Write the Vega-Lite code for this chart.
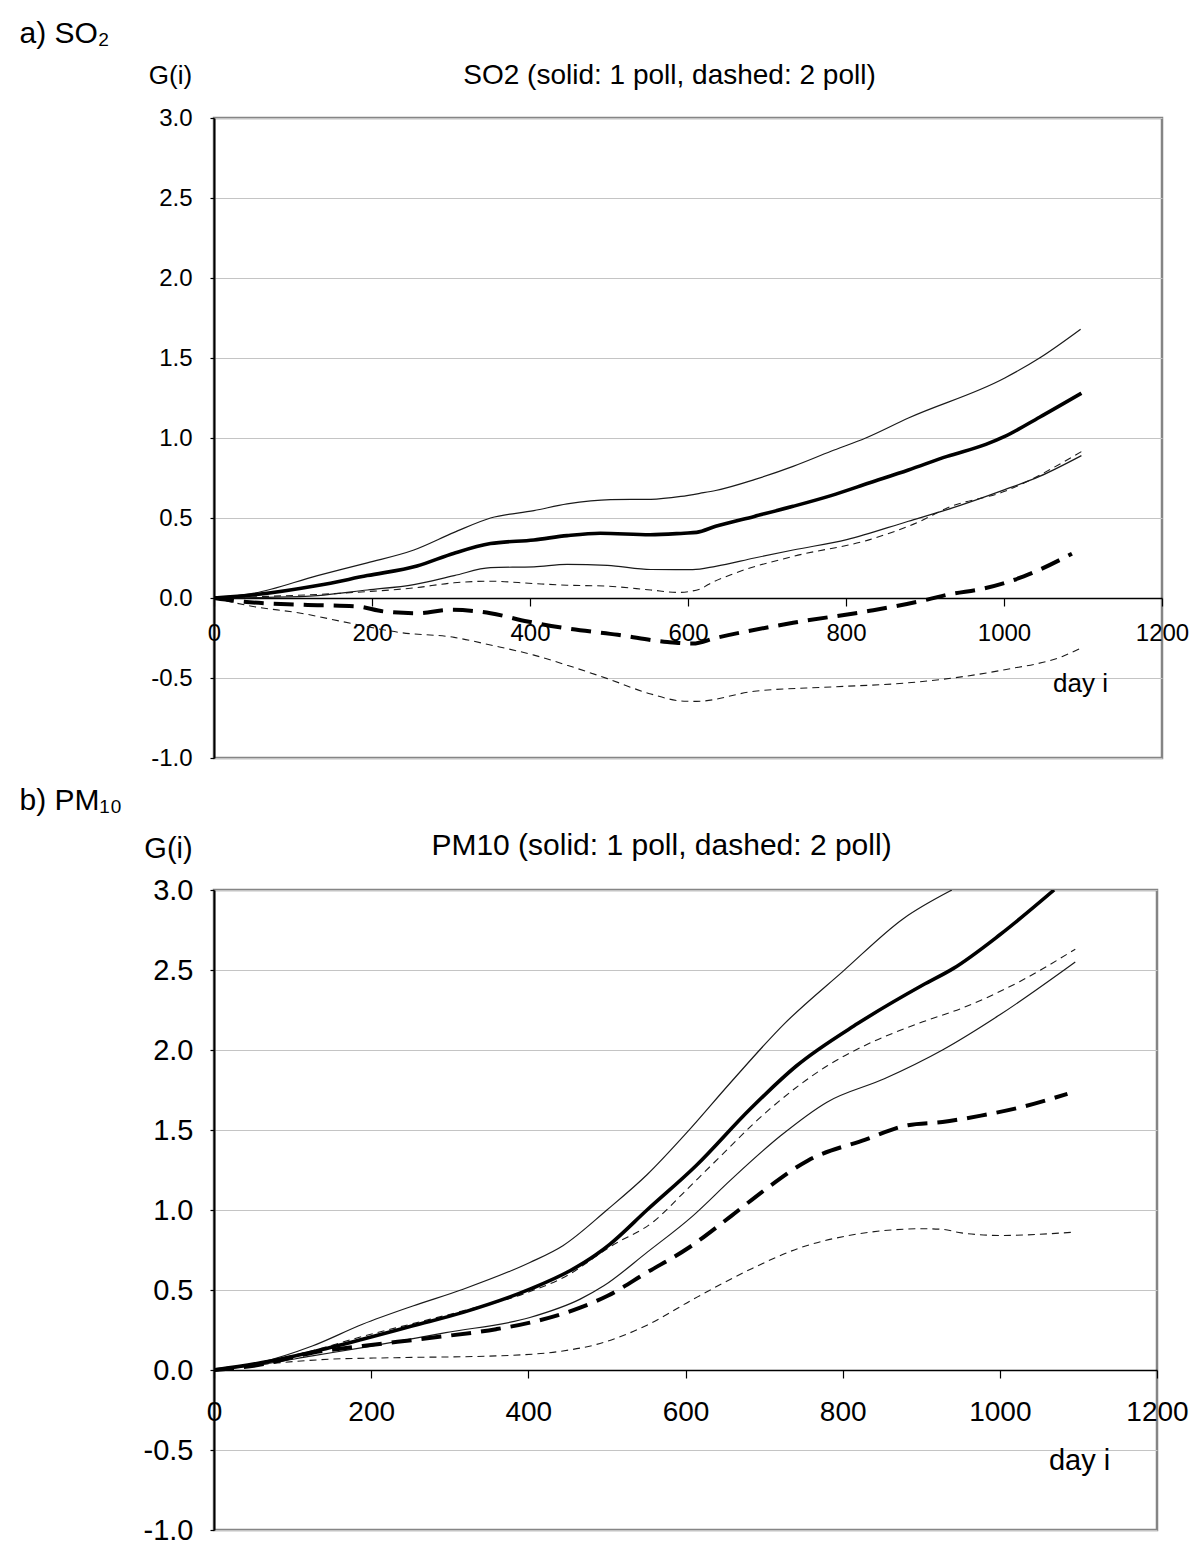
{
"$schema": "https://vega.github.io/schema/vega-lite/v6.json",
"background": "white",
"padding": {"left": 17, "top": 16, "right": 0, "bottom": 0},
"spacing": 11,
"config": {
  "font": "Liberation Sans",
  "view": {"stroke": "#858585", "strokeWidth": 2.5},
  "axis": {"labelColor": "black", "titleColor": "black", "tickColor": "black", "domainColor": "black", "titleFontWeight": "normal", "labelFont": "Liberation Sans", "titleFont": "Liberation Sans", "labelOverlap": false, "labelFlush": false, "labelBound": false}
},
"datasets": {
"so2": [
{"day":0,"G":0,"model":"1 poll","band":"upper"},{"day":51,"G":0.03,"model":"1 poll","band":"upper"},{"day":131,"G":0.14,"model":"1 poll","band":"upper"},{"day":194,"G":0.22,"model":"1 poll","band":"upper"},{"day":253,"G":0.3,"model":"1 poll","band":"upper"},{"day":304,"G":0.41,"model":"1 poll","band":"upper"},{"day":350,"G":0.5,"model":"1 poll","band":"upper"},{"day":405,"G":0.546,"model":"1 poll","band":"upper"},{"day":447,"G":0.588,"model":"1 poll","band":"upper"},{"day":502,"G":0.615,"model":"1 poll","band":"upper"},{"day":553,"G":0.617,"model":"1 poll","band":"upper"},{"day":591,"G":0.635,"model":"1 poll","band":"upper"},{"day":616,"G":0.655,"model":"1 poll","band":"upper"},{"day":635,"G":0.672,"model":"1 poll","band":"upper"},{"day":684,"G":0.74,"model":"1 poll","band":"upper"},{"day":733,"G":0.823,"model":"1 poll","band":"upper"},{"day":781,"G":0.917,"model":"1 poll","band":"upper"},{"day":825,"G":1.0,"model":"1 poll","band":"upper"},{"day":879,"G":1.125,"model":"1 poll","band":"upper"},{"day":1001,"G":1.375,"model":"1 poll","band":"upper"},{"day":1045,"G":1.5,"model":"1 poll","band":"upper"},{"day":1097,"G":1.68,"model":"1 poll","band":"upper"},
{"day":0,"G":0,"model":"1 poll","band":"estimate"},{"day":51,"G":0.02,"model":"1 poll","band":"estimate"},{"day":131,"G":0.078,"model":"1 poll","band":"estimate"},{"day":194,"G":0.14,"model":"1 poll","band":"estimate"},{"day":257,"G":0.2,"model":"1 poll","band":"estimate"},{"day":304,"G":0.28,"model":"1 poll","band":"estimate"},{"day":350,"G":0.34,"model":"1 poll","band":"estimate"},{"day":405,"G":0.363,"model":"1 poll","band":"estimate"},{"day":447,"G":0.39,"model":"1 poll","band":"estimate"},{"day":489,"G":0.405,"model":"1 poll","band":"estimate"},{"day":552,"G":0.395,"model":"1 poll","band":"estimate"},{"day":595,"G":0.405,"model":"1 poll","band":"estimate"},{"day":611,"G":0.41,"model":"1 poll","band":"estimate"},{"day":635,"G":0.448,"model":"1 poll","band":"estimate"},{"day":684,"G":0.51,"model":"1 poll","band":"estimate"},{"day":733,"G":0.573,"model":"1 poll","band":"estimate"},{"day":781,"G":0.64,"model":"1 poll","band":"estimate"},{"day":830,"G":0.72,"model":"1 poll","band":"estimate"},{"day":879,"G":0.8,"model":"1 poll","band":"estimate"},{"day":928,"G":0.885,"model":"1 poll","band":"estimate"},{"day":977,"G":0.96,"model":"1 poll","band":"estimate"},{"day":1001,"G":1.01,"model":"1 poll","band":"estimate"},{"day":1045,"G":1.13,"model":"1 poll","band":"estimate"},{"day":1098,"G":1.28,"model":"1 poll","band":"estimate"},
{"day":0,"G":0,"model":"1 poll","band":"lower"},{"day":68,"G":0.004,"model":"1 poll","band":"lower"},{"day":131,"G":0.015,"model":"1 poll","band":"lower"},{"day":194,"G":0.05,"model":"1 poll","band":"lower"},{"day":253,"G":0.084,"model":"1 poll","band":"lower"},{"day":304,"G":0.14,"model":"1 poll","band":"lower"},{"day":350,"G":0.19,"model":"1 poll","band":"lower"},{"day":405,"G":0.195,"model":"1 poll","band":"lower"},{"day":447,"G":0.21,"model":"1 poll","band":"lower"},{"day":498,"G":0.204,"model":"1 poll","band":"lower"},{"day":553,"G":0.178,"model":"1 poll","band":"lower"},{"day":606,"G":0.177,"model":"1 poll","band":"lower"},{"day":635,"G":0.198,"model":"1 poll","band":"lower"},{"day":684,"G":0.25,"model":"1 poll","band":"lower"},{"day":733,"G":0.3,"model":"1 poll","band":"lower"},{"day":801,"G":0.365,"model":"1 poll","band":"lower"},{"day":879,"G":0.48,"model":"1 poll","band":"lower"},{"day":928,"G":0.552,"model":"1 poll","band":"lower"},{"day":1001,"G":0.677,"model":"1 poll","band":"lower"},{"day":1045,"G":0.76,"model":"1 poll","band":"lower"},{"day":1098,"G":0.89,"model":"1 poll","band":"lower"},
{"day":0,"G":0,"model":"2 poll","band":"upper"},{"day":68,"G":0.01,"model":"2 poll","band":"upper"},{"day":194,"G":0.04,"model":"2 poll","band":"upper"},{"day":253,"G":0.063,"model":"2 poll","band":"upper"},{"day":304,"G":0.095,"model":"2 poll","band":"upper"},{"day":350,"G":0.105,"model":"2 poll","band":"upper"},{"day":405,"G":0.09,"model":"2 poll","band":"upper"},{"day":447,"G":0.08,"model":"2 poll","band":"upper"},{"day":498,"G":0.074,"model":"2 poll","band":"upper"},{"day":553,"G":0.05,"model":"2 poll","band":"upper"},{"day":587,"G":0.035,"model":"2 poll","band":"upper"},{"day":616,"G":0.057,"model":"2 poll","band":"upper"},{"day":625,"G":0.083,"model":"2 poll","band":"upper"},{"day":660,"G":0.156,"model":"2 poll","band":"upper"},{"day":733,"G":0.26,"model":"2 poll","band":"upper"},{"day":830,"G":0.365,"model":"2 poll","band":"upper"},{"day":894,"G":0.48,"model":"2 poll","band":"upper"},{"day":928,"G":0.5625,"model":"2 poll","band":"upper"},{"day":1001,"G":0.667,"model":"2 poll","band":"upper"},{"day":1098,"G":0.915,"model":"2 poll","band":"upper"},
{"day":0,"G":0,"model":"2 poll","band":"estimate"},{"day":25,"G":-0.017,"model":"2 poll","band":"estimate"},{"day":110,"G":-0.042,"model":"2 poll","band":"estimate"},{"day":181,"G":-0.052,"model":"2 poll","band":"estimate"},{"day":215,"G":-0.084,"model":"2 poll","band":"estimate"},{"day":257,"G":-0.095,"model":"2 poll","band":"estimate"},{"day":300,"G":-0.074,"model":"2 poll","band":"estimate"},{"day":350,"G":-0.095,"model":"2 poll","band":"estimate"},{"day":397,"G":-0.147,"model":"2 poll","band":"estimate"},{"day":447,"G":-0.19,"model":"2 poll","band":"estimate"},{"day":511,"G":-0.23,"model":"2 poll","band":"estimate"},{"day":574,"G":-0.275,"model":"2 poll","band":"estimate"},{"day":606,"G":-0.285,"model":"2 poll","band":"estimate"},{"day":635,"G":-0.25,"model":"2 poll","band":"estimate"},{"day":733,"G":-0.155,"model":"2 poll","band":"estimate"},{"day":830,"G":-0.08,"model":"2 poll","band":"estimate"},{"day":903,"G":-0.01,"model":"2 poll","band":"estimate"},{"day":928,"G":0.02,"model":"2 poll","band":"estimate"},{"day":977,"G":0.0625,"model":"2 poll","band":"estimate"},{"day":1025,"G":0.135,"model":"2 poll","band":"estimate"},{"day":1086,"G":0.277,"model":"2 poll","band":"estimate"},
{"day":0,"G":0,"model":"2 poll","band":"lower"},{"day":46,"G":-0.05,"model":"2 poll","band":"lower"},{"day":110,"G":-0.095,"model":"2 poll","band":"lower"},{"day":173,"G":-0.158,"model":"2 poll","band":"lower"},{"day":236,"G":-0.216,"model":"2 poll","band":"lower"},{"day":304,"G":-0.246,"model":"2 poll","band":"lower"},{"day":350,"G":-0.294,"model":"2 poll","band":"lower"},{"day":405,"G":-0.357,"model":"2 poll","band":"lower"},{"day":447,"G":-0.42,"model":"2 poll","band":"lower"},{"day":498,"G":-0.504,"model":"2 poll","band":"lower"},{"day":553,"G":-0.6,"model":"2 poll","band":"lower"},{"day":595,"G":-0.645,"model":"2 poll","band":"lower"},{"day":611,"G":-0.646,"model":"2 poll","band":"lower"},{"day":684,"G":-0.583,"model":"2 poll","band":"lower"},{"day":781,"G":-0.556,"model":"2 poll","band":"lower"},{"day":879,"G":-0.53,"model":"2 poll","band":"lower"},{"day":1001,"G":-0.448,"model":"2 poll","band":"lower"},{"day":1074,"G":-0.365,"model":"2 poll","band":"lower"},{"day":1098,"G":-0.3125,"model":"2 poll","band":"lower"}
],
"pm10": [
{"day":0,"G":0,"model":"1 poll","band":"upper"},{"day":61,"G":0.05,"model":"1 poll","band":"upper"},{"day":125,"G":0.15,"model":"1 poll","band":"upper"},{"day":189,"G":0.286,"model":"1 poll","band":"upper"},{"day":253,"G":0.4,"model":"1 poll","band":"upper"},{"day":317,"G":0.505,"model":"1 poll","band":"upper"},{"day":402,"G":0.672,"model":"1 poll","band":"upper"},{"day":444,"G":0.777,"model":"1 poll","band":"upper"},{"day":500,"G":1.0,"model":"1 poll","band":"upper"},{"day":551,"G":1.22,"model":"1 poll","band":"upper"},{"day":601,"G":1.48,"model":"1 poll","band":"upper"},{"day":658,"G":1.8,"model":"1 poll","band":"upper"},{"day":726,"G":2.165,"model":"1 poll","band":"upper"},{"day":800,"G":2.49,"model":"1 poll","band":"upper"},{"day":878,"G":2.824,"model":"1 poll","band":"upper"},{"day":939,"G":3.0,"model":"1 poll","band":"upper"},
{"day":0,"G":0,"model":"1 poll","band":"estimate"},{"day":61,"G":0.046,"model":"1 poll","band":"estimate"},{"day":125,"G":0.113,"model":"1 poll","band":"estimate"},{"day":189,"G":0.192,"model":"1 poll","band":"estimate"},{"day":253,"G":0.276,"model":"1 poll","band":"estimate"},{"day":317,"G":0.36,"model":"1 poll","band":"estimate"},{"day":402,"G":0.505,"model":"1 poll","band":"estimate"},{"day":453,"G":0.62,"model":"1 poll","band":"estimate"},{"day":486,"G":0.72,"model":"1 poll","band":"estimate"},{"day":504,"G":0.787,"model":"1 poll","band":"estimate"},{"day":551,"G":1.0,"model":"1 poll","band":"estimate"},{"day":614,"G":1.28,"model":"1 poll","band":"estimate"},{"day":682,"G":1.63,"model":"1 poll","band":"estimate"},{"day":741,"G":1.9,"model":"1 poll","band":"estimate"},{"day":819,"G":2.165,"model":"1 poll","band":"estimate"},{"day":902,"G":2.406,"model":"1 poll","band":"estimate"},{"day":941,"G":2.51,"model":"1 poll","band":"estimate"},{"day":1000,"G":2.72,"model":"1 poll","band":"estimate"},{"day":1069,"G":3.0,"model":"1 poll","band":"estimate"},
{"day":0,"G":0,"model":"1 poll","band":"lower"},{"day":61,"G":0.035,"model":"1 poll","band":"lower"},{"day":125,"G":0.088,"model":"1 poll","band":"lower"},{"day":189,"G":0.14,"model":"1 poll","band":"lower"},{"day":295,"G":0.234,"model":"1 poll","band":"lower"},{"day":402,"G":0.328,"model":"1 poll","band":"lower"},{"day":466,"G":0.443,"model":"1 poll","band":"lower"},{"day":496,"G":0.526,"model":"1 poll","band":"lower"},{"day":551,"G":0.735,"model":"1 poll","band":"lower"},{"day":609,"G":0.962,"model":"1 poll","band":"lower"},{"day":658,"G":1.19,"model":"1 poll","band":"lower"},{"day":721,"G":1.464,"model":"1 poll","band":"lower"},{"day":780,"G":1.674,"model":"1 poll","band":"lower"},{"day":853,"G":1.82,"model":"1 poll","band":"lower"},{"day":927,"G":2.0,"model":"1 poll","band":"lower"},{"day":1000,"G":2.22,"model":"1 poll","band":"lower"},{"day":1096,"G":2.55,"model":"1 poll","band":"lower"},
{"day":0,"G":0,"model":"2 poll","band":"upper"},{"day":61,"G":0.05,"model":"2 poll","band":"upper"},{"day":125,"G":0.12,"model":"2 poll","band":"upper"},{"day":189,"G":0.21,"model":"2 poll","band":"upper"},{"day":253,"G":0.29,"model":"2 poll","band":"upper"},{"day":317,"G":0.37,"model":"2 poll","band":"upper"},{"day":402,"G":0.49,"model":"2 poll","band":"upper"},{"day":453,"G":0.6,"model":"2 poll","band":"upper"},{"day":486,"G":0.71,"model":"2 poll","band":"upper"},{"day":504,"G":0.77,"model":"2 poll","band":"upper"},{"day":560,"G":0.93,"model":"2 poll","band":"upper"},{"day":600,"G":1.12,"model":"2 poll","band":"upper"},{"day":633,"G":1.28,"model":"2 poll","band":"upper"},{"day":707,"G":1.63,"model":"2 poll","band":"upper"},{"day":780,"G":1.9,"model":"2 poll","band":"upper"},{"day":829,"G":2.03,"model":"2 poll","band":"upper"},{"day":902,"G":2.176,"model":"2 poll","band":"upper"},{"day":951,"G":2.26,"model":"2 poll","band":"upper"},{"day":1025,"G":2.427,"model":"2 poll","band":"upper"},{"day":1096,"G":2.63,"model":"2 poll","band":"upper"},
{"day":0,"G":0,"model":"2 poll","band":"estimate"},{"day":61,"G":0.035,"model":"2 poll","band":"estimate"},{"day":125,"G":0.108,"model":"2 poll","band":"estimate"},{"day":189,"G":0.15,"model":"2 poll","band":"estimate"},{"day":274,"G":0.2,"model":"2 poll","band":"estimate"},{"day":359,"G":0.255,"model":"2 poll","band":"estimate"},{"day":402,"G":0.296,"model":"2 poll","band":"estimate"},{"day":466,"G":0.39,"model":"2 poll","band":"estimate"},{"day":501,"G":0.464,"model":"2 poll","band":"estimate"},{"day":550,"G":0.607,"model":"2 poll","band":"estimate"},{"day":604,"G":0.764,"model":"2 poll","band":"estimate"},{"day":658,"G":0.962,"model":"2 poll","band":"estimate"},{"day":702,"G":1.13,"model":"2 poll","band":"estimate"},{"day":756,"G":1.31,"model":"2 poll","band":"estimate"},{"day":829,"G":1.44,"model":"2 poll","band":"estimate"},{"day":883,"G":1.53,"model":"2 poll","band":"estimate"},{"day":927,"G":1.55,"model":"2 poll","band":"estimate"},{"day":976,"G":1.59,"model":"2 poll","band":"estimate"},{"day":1025,"G":1.64,"model":"2 poll","band":"estimate"},{"day":1086,"G":1.726,"model":"2 poll","band":"estimate"},
{"day":0,"G":0,"model":"2 poll","band":"lower"},{"day":61,"G":0.035,"model":"2 poll","band":"lower"},{"day":146,"G":0.067,"model":"2 poll","band":"lower"},{"day":231,"G":0.077,"model":"2 poll","band":"lower"},{"day":359,"G":0.088,"model":"2 poll","band":"lower"},{"day":444,"G":0.119,"model":"2 poll","band":"lower"},{"day":487,"G":0.16,"model":"2 poll","band":"lower"},{"day":551,"G":0.28,"model":"2 poll","band":"lower"},{"day":609,"G":0.44,"model":"2 poll","band":"lower"},{"day":682,"G":0.628,"model":"2 poll","band":"lower"},{"day":746,"G":0.764,"model":"2 poll","band":"lower"},{"day":804,"G":0.837,"model":"2 poll","band":"lower"},{"day":902,"G":0.883,"model":"2 poll","band":"lower"},{"day":927,"G":0.879,"model":"2 poll","band":"lower"},{"day":951,"G":0.857,"model":"2 poll","band":"lower"},{"day":1000,"G":0.841,"model":"2 poll","band":"lower"},{"day":1096,"G":0.862,"model":"2 poll","band":"lower"}
]
},
"vconcat": [
{
  "width": 948, "height": 640,
  "data": {"name": "so2"},
  "layer": [
    {
      "transform": [{"filter": "datum.model === '1 poll' && datum.band !== 'estimate'"}],
      "mark": {"type": "line", "interpolate": "monotone", "stroke": "#1a1a1a", "strokeWidth": 1.2, "clip": true},
      "encoding": {
        "x": {"field": "day", "type": "quantitative", "scale": {"domain": [0, 1200], "nice": false, "zero": false},
              "axis": {"orient": "bottom", "offset": -160, "values": [0,200,400,600,800,1000,1200], "format": "d", "grid": false, "labelFontSize": 24, "tickSize": 8, "tickWidth": 1.2, "labelPadding": 15, "domainWidth": 1.5,
                       "title": "day i", "titleFontSize": 26, "titleX": 866, "titleY": 85, "titleAlign": "center", "titleBaseline": "middle", "titleAngle": 0}},
        "y": {"field": "G", "type": "quantitative", "scale": {"domain": [-1, 3], "nice": false, "zero": false},
              "axis": {"orient": "left", "values": [-1,-0.5,0,0.5,1,1.5,2,2.5,3], "labelExpr": "datum.value < 0 ? '-' + format(-datum.value, '.1f') : format(datum.value, '.1f')", "grid": true, "gridColor": "#c4c4c4", "gridWidth": 1.2, "labelFontSize": 24, "tickSize": 4, "tickWidth": 1.2, "labelPadding": 18, "domainWidth": 2,
                       "title": "G(i)", "titleFontSize": 26, "titleX": -44, "titleY": -43, "titleAlign": "center", "titleBaseline": "middle", "titleAngle": 0}},
        "detail": {"field": "band"}
      }
    },
    {
      "transform": [{"filter": "datum.model === '2 poll' && datum.band !== 'estimate'"}],
      "mark": {"type": "line", "interpolate": "monotone", "stroke": "#1a1a1a", "strokeWidth": 1.1, "strokeDash": [7, 5], "clip": true},
      "encoding": {
        "x": {"field": "day", "type": "quantitative", "axis": null},
        "y": {"field": "G", "type": "quantitative", "axis": null},
        "detail": {"field": "band"}
      }
    },
    {
      "transform": [{"filter": "datum.model === '1 poll' && datum.band === 'estimate'"}],
      "mark": {"type": "line", "interpolate": "monotone", "stroke": "black", "strokeWidth": 3.6, "clip": true},
      "encoding": {
        "x": {"field": "day", "type": "quantitative",
              "axis": {"orient": "top", "labels": false, "ticks": false, "domain": false, "grid": false,
                       "title": "SO2 (solid: 1 poll, dashed: 2 poll)", "titleFontSize": 28, "titleX": 455, "titleY": -43, "titleAlign": "center", "titleBaseline": "middle", "titleAngle": 0}},
        "y": {"field": "G", "type": "quantitative",
              "axis": {"orient": "right", "labels": false, "ticks": false, "domain": false, "grid": false,
                       "title": "a) SO₂", "titleFontSize": 30, "titleX": -1143, "titleY": -85, "titleAlign": "left", "titleBaseline": "middle", "titleAngle": 0}}
      }
    },
    {
      "transform": [{"filter": "datum.model === '2 poll' && datum.band === 'estimate'"}],
      "mark": {"type": "line", "interpolate": "monotone", "stroke": "black", "strokeWidth": 4, "strokeDash": [20, 10], "clip": true},
      "encoding": {
        "x": {"field": "day", "type": "quantitative", "axis": null},
        "y": {"field": "G", "type": "quantitative", "axis": null}
      }
    }
  ]
},
{
  "width": 943, "height": 640,
  "data": {"name": "pm10"},
  "layer": [
    {
      "transform": [{"filter": "datum.model === '1 poll' && datum.band !== 'estimate'"}],
      "mark": {"type": "line", "interpolate": "monotone", "stroke": "#1a1a1a", "strokeWidth": 1.2, "clip": true},
      "encoding": {
        "x": {"field": "day", "type": "quantitative", "scale": {"domain": [0, 1200], "nice": false, "zero": false},
              "axis": {"orient": "bottom", "offset": -160, "values": [0,200,400,600,800,1000,1200], "format": "d", "grid": false, "labelFontSize": 28, "tickSize": 8, "tickWidth": 1.2, "labelPadding": 20, "domainWidth": 1.5,
                       "title": "day i", "titleFontSize": 29, "titleX": 865, "titleY": 90, "titleAlign": "center", "titleBaseline": "middle", "titleAngle": 0}},
        "y": {"field": "G", "type": "quantitative", "scale": {"domain": [-1, 3], "nice": false, "zero": false},
              "axis": {"orient": "left", "values": [-1,-0.5,0,0.5,1,1.5,2,2.5,3], "labelExpr": "datum.value < 0 ? '-' + format(-datum.value, '.1f') : format(datum.value, '.1f')", "grid": true, "gridColor": "#c4c4c4", "gridWidth": 1.2, "labelFontSize": 29, "tickSize": 4, "tickWidth": 1.2, "labelPadding": 17, "domainWidth": 2,
                       "title": "G(i)", "titleFontSize": 29, "titleX": -46, "titleY": -42, "titleAlign": "center", "titleBaseline": "middle", "titleAngle": 0}},
        "detail": {"field": "band"}
      }
    },
    {
      "transform": [{"filter": "datum.model === '2 poll' && datum.band !== 'estimate'"}],
      "mark": {"type": "line", "interpolate": "monotone", "stroke": "#1a1a1a", "strokeWidth": 1.1, "strokeDash": [7, 5], "clip": true},
      "encoding": {
        "x": {"field": "day", "type": "quantitative", "axis": null},
        "y": {"field": "G", "type": "quantitative", "axis": null},
        "detail": {"field": "band"}
      }
    },
    {
      "transform": [{"filter": "datum.model === '1 poll' && datum.band === 'estimate'"}],
      "mark": {"type": "line", "interpolate": "monotone", "stroke": "black", "strokeWidth": 3.6, "clip": true},
      "encoding": {
        "x": {"field": "day", "type": "quantitative",
              "axis": {"orient": "top", "labels": false, "ticks": false, "domain": false, "grid": false,
                       "title": "PM10 (solid: 1 poll, dashed: 2 poll)", "titleFontSize": 30, "titleX": 447, "titleY": -45, "titleAlign": "center", "titleBaseline": "middle", "titleAngle": 0}},
        "y": {"field": "G", "type": "quantitative",
              "axis": {"orient": "right", "labels": false, "ticks": false, "domain": false, "grid": false,
                       "title": "b) PM₁₀", "titleFontSize": 30, "titleX": -1138, "titleY": -90, "titleAlign": "left", "titleBaseline": "middle", "titleAngle": 0}}
      }
    },
    {
      "transform": [{"filter": "datum.model === '2 poll' && datum.band === 'estimate'"}],
      "mark": {"type": "line", "interpolate": "monotone", "stroke": "black", "strokeWidth": 4, "strokeDash": [20, 10], "clip": true},
      "encoding": {
        "x": {"field": "day", "type": "quantitative", "axis": null},
        "y": {"field": "G", "type": "quantitative", "axis": null}
      }
    }
  ]
}
]
}
